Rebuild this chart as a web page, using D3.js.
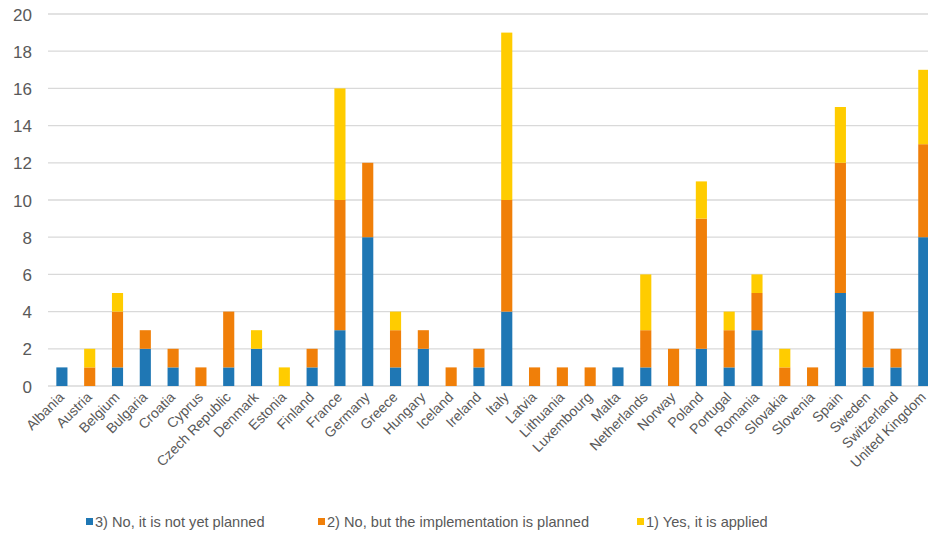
<!DOCTYPE html>
<html>
<head>
<meta charset="utf-8">
<script src="https://cdn.jsdelivr.net/npm/d3@7"></script>
<style>
  html, body { margin: 0; padding: 0; background: #fff; }
  svg { display: block; font-family: "Liberation Sans", Arial, sans-serif; }
</style>
</head>
<body>
<svg id="chart" width="928" height="537"></svg>
<script>
const countries = ["Albania","Austria","Belgium","Bulgaria","Croatia","Cyprus","Czech Republic","Denmark","Estonia","Finland","France","Germany","Greece","Hungary","Iceland","Ireland","Italy","Latvia","Lithuania","Luxembourg","Malta","Netherlands","Norway","Poland","Portugal","Romania","Slovakia","Slovenia","Spain","Sweden","Switzerland","United Kingdom"];
const notPlanned = [1,0,1,2,1,0,1,2,0,1,3,8,1,2,0,1,4,0,0,0,1,1,0,2,1,3,0,0,5,1,1,8];
const planned    = [0,1,3,1,1,1,3,0,0,1,7,4,2,1,1,1,6,1,1,1,0,2,2,7,2,2,1,1,7,3,1,5];
const applied    = [0,1,1,0,0,0,0,1,1,0,6,0,1,0,0,0,9,0,0,0,0,3,0,2,1,1,1,0,3,0,0,4];
const seriesNames = ["3) No, it is not yet planned","2) No, but the implementation is planned","1) Yes, it is applied"];
const seriesColors = ["#1f77b4","#f07f09","#ffcc00"];
const yTicks = [0,2,4,6,8,10,12,14,16,18,20];

const svg = d3.select("#chart");
const rows = countries.map((c,i) => ({country:c, s0:notPlanned[i], s1:planned[i], s2:applied[i]}));
const stack = d3.stack().keys(["s0","s1","s2"])(rows);

const x = d3.scaleBand().domain(countries).range([48, 937.7]).paddingInner(0.6).paddingOuter(0.3);
const y = d3.scaleLinear().domain([0,20]).range([386, 14]);

// gridlines
svg.append("g").selectAll("line").data(yTicks).join("line")
  .attr("x1", 48).attr("x2", 928)
  .attr("y1", d => y(d)).attr("y2", d => y(d))
  .attr("stroke", "#d9d9d9").attr("stroke-width", 1.3);

// y axis labels
const yAxis = d3.axisLeft(y).tickValues(yTicks).tickSize(0).tickPadding(0);
const yg = svg.append("g").attr("transform", "translate(32,0)").call(yAxis);
yg.select(".domain").remove();
yg.selectAll("text").attr("fill", "#595959").style("font-size", "17px")
  .style("font-family", "'Liberation Sans', Arial, sans-serif").attr("dy", "0.36em");

// bars
svg.append("g").selectAll("g").data(stack).join("g")
  .attr("fill", (d,i) => seriesColors[i])
  .selectAll("rect").data(d => d).join("rect")
  .attr("x", d => x(d.data.country))
  .attr("width", x.bandwidth())
  .attr("y", d => y(d[1]))
  .attr("height", d => y(d[0]) - y(d[1]));

// x labels
const xAxis = d3.axisBottom(x).tickSize(0).tickPadding(0);
const xg = svg.append("g").attr("transform", "translate(0,386)").call(xAxis);
xg.select(".domain").remove();
xg.selectAll("text")
  .attr("fill", "#595959").style("font-size", "14px")
  .style("font-family", "'Liberation Sans', Arial, sans-serif")
  .attr("text-anchor", "end")
  .attr("dy", null).attr("y", 0)
  .attr("transform", "translate(3,12) rotate(-45)");

// legend
const legendX = [86, 318, 637];
const lg = svg.append("g").selectAll("g").data(seriesNames).join("g")
  .attr("transform", (d,i) => `translate(${legendX[i]},522)`);
lg.append("rect").attr("x", 0).attr("y", -4).attr("width", 7).attr("height", 7)
  .attr("fill", (d,i) => seriesColors[i]);
lg.append("text").attr("x", 9).attr("y", 0).attr("dy", "0.35em")
  .attr("fill", "#595959").style("font-size", "14.6px").text(d => d);
</script>
</body>
</html>
